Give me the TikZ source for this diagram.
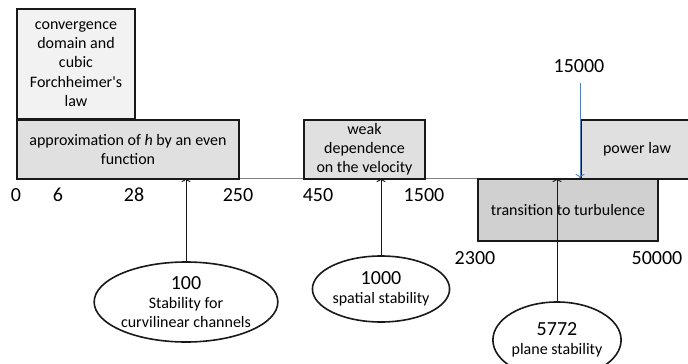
\documentclass[tikz,border=0pt]{standalone}
\usepackage{fontspec}
\setmainfont{Carlito}
\usepackage{tikz}
\usetikzlibrary{shapes.geometric,arrows.meta}

\definecolor{palegray}{HTML}{F2F2F2}
\definecolor{boxgray}{HTML}{E0E0E0}
\definecolor{darkbox}{HTML}{D0D0D0}
\definecolor{axisgray}{HTML}{808080}
\definecolor{officeblue}{HTML}{4F81BD}

\begin{document}
\begin{tikzpicture}[x=1pt, y=-1pt,
                    every node/.style={font=\fontsize{16}{19.2}\selectfont, align=center, inner sep=0pt},
                    rangebox/.style={draw=black!90, line width=2pt, rectangle, anchor=north west},
                    bound/.style={font=\fontsize{20}{24}\selectfont},
                    regime/.style={draw=black!90, line width=1.6pt, ellipse},
                    marker/.style={-{To[length=4pt,width=9pt]}, line width=0.9pt, black!90}
]
\useasboundingbox (0,0) rectangle (688,364);

% axis
\draw[axisgray, line width=0.8pt] (16,178) -- (657,178);

% ranges above and below the axis
\node [rangebox, fill=palegray, minimum width=118pt, minimum height=110pt] at (16,8) (conv)
      {convergence\\domain and\\cubic\\Forchheimer\textquotesingle s\\law};
\node [rangebox, fill=boxgray, minimum width=222pt, minimum height=59pt] at (16,119) (approx)
      {approximation of \textit{h} by an even\\function};
\node [rangebox, fill=boxgray, minimum width=121pt, minimum height=59pt] at (303,119) (weak)
      {weak\\dependence\\on the velocity};
\node [rangebox, fill=boxgray, minimum width=112pt, minimum height=59pt] at (580,119) (power)
      {power law};
\node [rangebox, fill=darkbox, minimum width=180pt, minimum height=62pt] at (477,178) (trans)
      {transition to turbulence};
%
\node [bound] at (16,195) (n0) {0};
\node [bound] at (58,195) (n6) {6};
\node [bound] at (134,195) (n28) {28};
\node [bound] at (238,195) (n250) {250};
\node [bound] at (318,195) (n450) {450};
\node [bound] at (424,195) (n1500) {1500};
\node [bound] at (475,258) (n2300) {2300};
\node [bound] at (657,258) (n50000) {50000};
\node [bound] at (579,66) (n15000) {15000};

% critical values
\node [regime, minimum width=162pt, minimum height=80pt] at (186,302) (e100)
      {{\fontsize{20}{24}\selectfont 100}\\Stability for\\curvilinear channels};
\node [regime, minimum width=108pt, minimum height=66pt] at (381,289) (e1000)
      {{\fontsize{20}{24}\selectfont 1000}\\spatial stability};
\node [regime, minimum width=111pt, minimum height=76pt] at (557,340) (e5772)
      {{\fontsize{20}{24}\selectfont 5772}\\plane stability};
%
\coordinate (a100) at (186,178);
\coordinate (a1000) at (381,178);
\coordinate (a5772) at (557,178);
\coordinate (a15000) at (580,178);
\coordinate (b15000) at (580,83);
\draw [marker] (e100.north) -- (a100);
\draw [marker] (e1000.north) -- (a1000);
\draw [marker] (e5772.north) -- (a5772);
\draw [marker, officeblue] (b15000) -- (a15000);
\end{tikzpicture}
\end{document}
